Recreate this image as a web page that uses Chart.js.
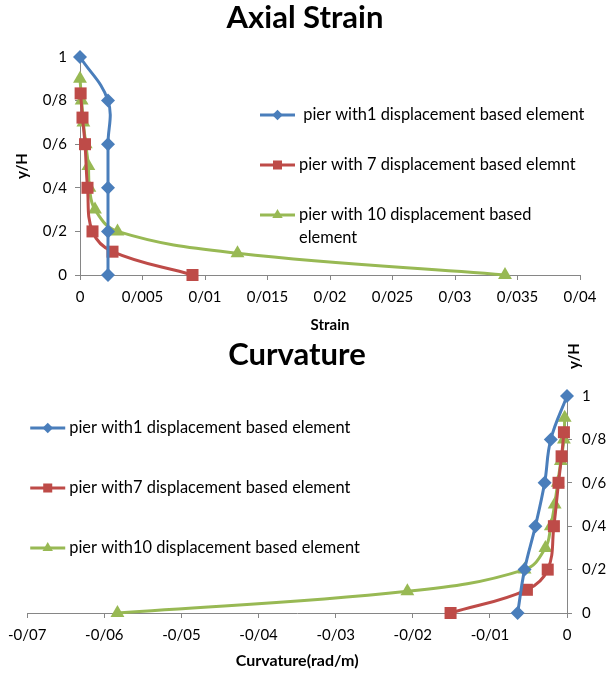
<!DOCTYPE html>
<html>
<head>
<meta charset="utf-8">
<script src="https://cdn.jsdelivr.net/npm/chart.js@4.4.1/dist/chart.umd.min.js"></script>
<style>
  body { margin: 0; background: #fff; }
  canvas { display: block; }
</style>
</head>
<body>
<canvas id="graficoDeformacion" width="610" height="340"></canvas>
<canvas id="graficoCurvatura" width="610" height="337"></canvas>
<script>
// etiquetas de las series
const etiquetasDeformacion = [' pier with1 displacement based element', 'pier with 7 displacement based elemnt', ['pier with 10 displacement based', 'element']];
const etiquetasCurvatura = ['pier with1 displacement based element', 'pier with7 displacement based element', 'pier with10 displacement based element'];

// altura relativa y/H de cada modelo
const alturas1 = [1, 0.8, 0.6, 0.4, 0.2, 0];
const alturas7 = [0.833, 0.722, 0.6, 0.4, 0.2, 0.107, 0];
const alturas10 = [0.9, 0.8, 0.7, 0.6, 0.5, 0.4, 0.3, 0.2, 0.1, 0];

// deformacion axial
const deformacion1 = [0, 0.00224, 0.00224, 0.00224, 0.00224, 0.00224];
const deformacion7 = [0.00005, 0.0002, 0.0004, 0.0006, 0.001, 0.0026, 0.0090];
const deformacion10 = [0, 0.00013, 0.00027, 0.00046, 0.00067, 0.00075, 0.0012, 0.003, 0.0126, 0.0340];

// curvatura (rad/m)
const curvatura1 = [0, -0.0021, -0.0029, -0.0041, -0.0055, -0.0064];
const curvatura7 = [-0.0004, -0.0007, -0.0011, -0.0017, -0.0025, -0.0052, -0.0151];
const curvatura10 = [-0.0003, -0.0004, -0.0008, -0.0012, -0.0016, -0.0021, -0.0028, -0.0055, -0.0207, -0.0583];

const colores = ['#4A7EBB', '#BE4B48', '#98B954'];
const marcadores = ['rectRot', 'rect', 'triangle'];
const radios = [7, 8.5, 8];
const fuente = "Lato, 'Open Sans', sans-serif";
const gris = '#868686';

const aPuntos = (xs, ys) => xs.map((x, i) => ({ x: x, y: ys[i] }));
const formatoTick = (v) => String(Number(v.toFixed(4))).replace('.', '/');

function crearSeries(etiquetas, listaX) {
    const listaY = [alturas1, alturas7, alturas10];
    return listaX.map((xs, i) => ({
        label: etiquetas[i],
        data: aPuntos(xs, listaY[i]),
        showLine: true,
        clip: false,
        borderColor: colores[i],
        backgroundColor: colores[i],
        borderWidth: 3,
        pointStyle: marcadores[i],
        pointRadius: radios[i],
        pointBorderWidth: 0,
        tension: 0.4
    }));
}

// titulo centrado en una x dada
const pluginTitulo = {
    id: 'tituloExcel',
    afterDraw: (chart, args, opts) => {
        const { ctx } = chart;
        ctx.save();
        ctx.fillStyle = '#000';
        ctx.font = 'bold 31px ' + fuente;
        ctx.textAlign = 'center';
        ctx.textBaseline = 'middle';
        ctx.fillText(opts.texto, opts.x, opts.y);
        ctx.restore();
    }
};

// leyenda dibujada dentro del area del grafico
const pluginLeyenda = {
    id: 'leyendaExcel',
    afterDraw: (chart, args, opts) => {
        const { ctx, chartArea } = chart;
        ctx.save();
        ctx.font = '16.4px ' + fuente;
        ctx.textBaseline = 'middle';
        ctx.textAlign = 'left';
        chart.data.datasets.forEach((ds, i) => {
            const x0 = chartArea.left + opts.dx;
            const y0 = chartArea.top + opts.dy + i * opts.paso;
            ctx.strokeStyle = ds.borderColor;
            ctx.lineWidth = 3;
            ctx.beginPath();
            ctx.moveTo(x0, y0);
            ctx.lineTo(x0 + 35, y0);
            ctx.stroke();
            ctx.fillStyle = ds.backgroundColor;
            ctx.lineWidth = 0;
            Chart.helpers.drawPoint(ctx, { pointStyle: ds.pointStyle, radius: ds.pointRadius * 0.75, rotation: 0, borderWidth: 0 }, x0 + 17.5, y0);
            ctx.fillStyle = '#000';
            const lineas = Array.isArray(ds.label) ? ds.label : [ds.label];
            lineas.forEach((t, j) => ctx.fillText(t, x0 + 39, y0 + j * 23));
        });
        ctx.restore();
    }
};

// titulo del eje y girado (para el eje derecho)
const pluginEjeDerecho = {
    id: 'tituloEjeDerecho',
    afterDraw: (chart, args, opts) => {
        if (!opts.texto) return;
        const { ctx, chartArea } = chart;
        ctx.save();
        ctx.translate(chartArea.right + 7, chartArea.top - 40);
        ctx.rotate(-Math.PI / 2);
        ctx.font = 'bold 15px ' + fuente;
        ctx.fillStyle = '#000';
        ctx.textAlign = 'center';
        ctx.textBaseline = 'middle';
        ctx.fillText(opts.texto, 0, 0);
        ctx.restore();
    }
};

function ejeBase(min, max, paso, ancho, alto) {
    return {
        type: 'linear',
        min: min,
        max: max,
        grid: { drawOnChartArea: false, drawTicks: true, tickLength: 5, color: gris },
        border: { color: gris, width: 1 },
        ticks: {
            stepSize: paso,
            color: '#000',
            font: { family: fuente, size: 15 },
            padding: 8,
            autoSkip: false,
            maxRotation: 0,
            callback: (v) => formatoTick(v)
        },
        afterFit: (escala) => {
            if (ancho) escala.width = ancho;
            if (alto) escala.height = alto;
        }
    };
}

Chart.defaults.font.family = fuente;
Chart.defaults.animation = false;

// ---- Axial Strain ----
const ejeXDef = ejeBase(0, 0.04, 0.005, null, 65);
ejeXDef.title = { display: true, text: 'Strain', color: '#000', font: { family: fuente, size: 15, weight: 'bold' }, padding: { top: 0, bottom: 6 } };
const ejeYDef = ejeBase(0, 1, 0.2, 80, null);
ejeYDef.title = { display: true, text: 'y/H', color: '#000', font: { family: fuente, size: 15, weight: 'bold' }, padding: { top: 13, bottom: 0 } };

new Chart(document.getElementById('graficoDeformacion'), {
    type: 'scatter',
    data: { datasets: crearSeries(etiquetasDeformacion, [deformacion1, deformacion7, deformacion10]) },
    plugins: [pluginTitulo, pluginLeyenda],
    options: {
        responsive: false,
        layout: { padding: { top: 57, right: 30, left: 0, bottom: 0 } },
        plugins: {
            legend: { display: false },
            tooltip: { enabled: false },
            tituloExcel: { texto: 'Axial Strain', x: 305, y: 18 },
            leyendaExcel: { dx: 180, dy: 58, paso: 50 }
        },
        scales: { x: ejeXDef, y: ejeYDef }
    }
});

// ---- Curvature ----
const ejeXCur = ejeBase(-0.07, 0, 0.01, null, 64);
ejeXCur.title = { display: true, text: 'Curvature(rad/m)', color: '#000', font: { family: fuente, size: 16, weight: 'bold' }, padding: { top: 0, bottom: 7 } };
const ejeYCur = ejeBase(0, 1, 0.2, 43, null);
ejeYCur.position = 'right';
ejeYCur.ticks.padding = 10;

new Chart(document.getElementById('graficoCurvatura'), {
    type: 'scatter',
    data: { datasets: crearSeries(etiquetasCurvatura, [curvatura1, curvatura7, curvatura10]) },
    plugins: [pluginTitulo, pluginLeyenda, pluginEjeDerecho],
    options: {
        responsive: false,
        layout: { padding: { top: 56, right: 0, left: 22, bottom: 0 } },
        plugins: {
            legend: { display: false },
            tooltip: { enabled: false },
            tituloExcel: { texto: 'Curvature', x: 297, y: 15 },
            leyendaExcel: { dx: 3, dy: 32, paso: 60 },
            tituloEjeDerecho: { texto: 'y/H' }
        },
        scales: { x: ejeXCur, y: ejeYCur }
    }
});
</script>
</body>
</html>
